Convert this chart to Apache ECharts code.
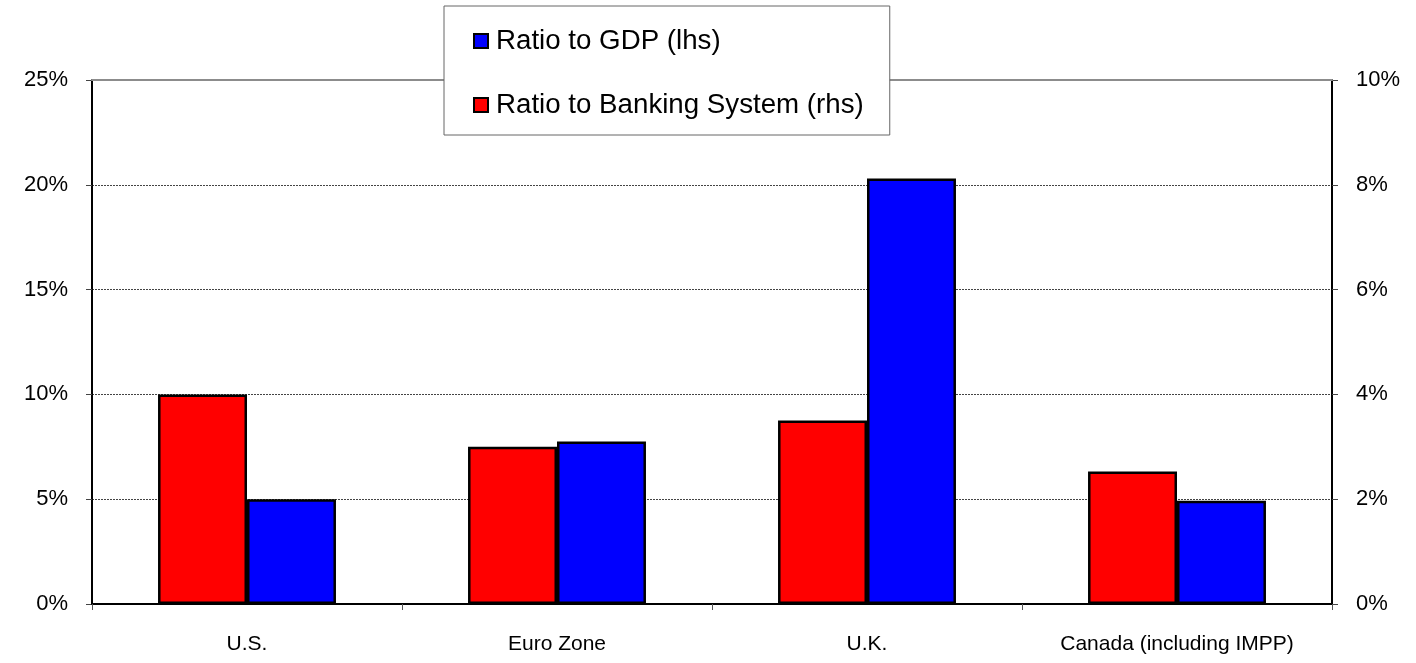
<!DOCTYPE html>
<html>
<head>
<meta charset="utf-8">
<script src="https://cdn.jsdelivr.net/npm/echarts@6/dist/echarts.min.js"></script>
<style>
  html, body { margin: 0; padding: 0; background: #fff; }
  #chart { width: 1416px; height: 663px; }
</style>
</head>
<body>
<div id="chart"></div>
<script>
const categories = ['U.S.', 'Euro Zone', 'U.K.', 'Canada (including IMPP)'];
const gdpName = 'Ratio to GDP (lhs)';
const bankName = 'Ratio to Banking System (rhs)';
const gdpValues = [5.0, 7.75, 20.3, 4.93];      // left axis, %
const bankValues = [4.0, 3.0, 3.5, 2.53];        // right axis, %
const leftTicks = { min: 0, max: 25, interval: 5 };
const rightTicks = { min: 0, max: 10, interval: 2 };

const FONT = '"Liberation Sans", Arial, Helvetica, sans-serif';
const chart = echarts.init(document.getElementById('chart'));

chart.setOption({
  animation: false,
  backgroundColor: '#fff',
  textStyle: { fontFamily: FONT },
  grid: { left: 92, right: 84, top: 80, bottom: 59 },
  legend: {
    data: [gdpName, bankName],
    orient: 'vertical',
    left: 444, top: 6,
    padding: [21, 26, 16, 29],
    itemGap: 36,
    itemWidth: 14, itemHeight: 14,
    icon: 'rect',
    backgroundColor: '#fff',
    borderColor: '#666', borderWidth: 1,
    textStyle: { fontFamily: FONT, fontSize: 27.7, color: '#000', padding: [0, 0, 0, 3] },
    z: 10
  },
  xAxis: [
    {
      type: 'category',
      data: categories,
      z: 5,
      axisLine: { onZero: false, lineStyle: { color: '#000', width: 2 } },
      axisTick: { show: true, length: 6, lineStyle: { color: '#555', width: 1 } },
      axisLabel: { fontFamily: FONT, fontSize: 21, color: '#000', margin: 30 }
    },
    {
      type: 'category', position: 'top',
      data: categories,
      z: 5,
      axisLine: { show: true, onZero: false, lineStyle: { color: '#8c8c8c', width: 2 } },
      axisTick: { show: false },
      axisLabel: { show: false },
      splitLine: { show: false }
    }
  ],
  yAxis: [
    {
      type: 'value', position: 'left',
      min: leftTicks.min, max: leftTicks.max, interval: leftTicks.interval,
      axisLine: { show: true, lineStyle: { color: '#000', width: 2 } },
      axisTick: { show: true, length: 6, lineStyle: { color: '#444' } },
      axisLabel: { formatter: '{value}%', fontFamily: FONT, fontSize: 22, color: '#000', margin: 24 },
      splitLine: { show: true, lineStyle: { color: '#444', type: [2, 1], width: 1 } }
    },
    {
      type: 'value', position: 'right',
      min: rightTicks.min, max: rightTicks.max, interval: rightTicks.interval,
      axisLine: { show: true, lineStyle: { color: '#000', width: 2 } },
      axisTick: { show: true, length: 6, lineStyle: { color: '#444' } },
      axisLabel: { formatter: '{value}%', fontFamily: FONT, fontSize: 22, color: '#000', margin: 24 },
      splitLine: { show: false }
    }
  ],
  series: [
    {
      name: bankName, type: 'bar', yAxisIndex: 1,
      data: bankValues,
      barGap: '0%', barCategoryGap: '42.6%',
      itemStyle: { color: '#ff0000', borderColor: '#000', borderWidth: 2.5 }
    },
    {
      name: gdpName, type: 'bar', yAxisIndex: 0,
      data: gdpValues,
      barGap: '0%', barCategoryGap: '42.6%',
      itemStyle: { color: '#0000ff', borderColor: '#000', borderWidth: 2.5 }
    }
  ]
});
</script>
</body>
</html>
